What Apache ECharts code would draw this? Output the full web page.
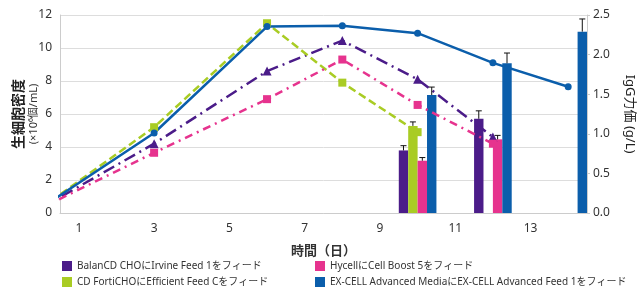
<!DOCTYPE html>
<html>
<head>
<meta charset="utf-8">
<script src="https://cdn.jsdelivr.net/npm/echarts@6/dist/echarts.min.js"></script>
<style>html,body{margin:0;padding:0;background:#fff}#c{width:638px;height:290px}</style>
</head>
<body>
<div id="c"></div>
<script>
// ---- data ----
const dayCategories = ['1','2','3','4','5','6','7','8','9','10','11','12','13','14'];
const lineDays = [0, 3, 6, 8, 10, 12, 14];
const balanVcd  = [0.3, 4.2, 8.6, 10.45, 8.1, 4.6, null];
const fortiVcd  = [0.3, 5.2, 11.5, 7.9, 4.9, null, null];
const hycellVcd = [0.3, 3.65, 6.9, 9.3, 6.55, 4.2, null];
const excellVcd = [0.3, 4.85, 11.3, 11.35, 10.9, 9.1, 7.65];

const titerDays = ['10', '12', '14'];
const balanTiter  = [0.79, 1.19, null];
const balanErr    = [0.06, 0.10, null];
const fortiTiter  = [1.10, null, null];
const fortiErr    = [0.05, null, null];
const hycellTiter = [0.66, 0.93, null];
const hycellErr   = [0.04, 0.05, null];
const excellTiter = [1.49, 1.89, 2.29];
const excellErr   = [0.10, 0.13, 0.16];

const names = [
  'BalanCD CHOにIrvine Feed 1をフィード',
  'CD FortiCHOにEfficient Feed Cをフィード',
  'HycellにCell Boost 5をフィード',
  'EX-CELL Advanced MediaにEX-CELL Advanced Feed 1をフィード'
];
const colors = ['#4b1c89', '#a9cc24', '#e6338e', '#0b5eab'];

// ---- build ----
const vcds = [balanVcd, fortiVcd, hycellVcd, excellVcd];
const titers = [balanTiter, fortiTiter, hycellTiter, excellTiter];
const errs = [balanErr, fortiErr, hycellErr, excellErr];
const symbols = ['triangle', 'rect', 'rect', 'circle'];
const symbolSizes = [9, 8, 8, 7];
const dashes = [[12, 5, 2, 5], [8, 4], [8, 5, 2, 5], 'solid'];

const font = '"Noto Sans", "Noto Sans CJK JP", sans-serif';

const series = [];
// bars (titer)
for (let k = 0; k < 4; k++) {
  const data = dayCategories.map(d => {
    const i = titerDays.indexOf(d);
    return i >= 0 ? titers[k][i] : null;
  });
  series.push({
    name: names[k], type: 'bar', xAxisIndex: 0, yAxisIndex: 1,
    data: data, barGap: '0%', barCategoryGap: '0%',
    itemStyle: { color: colors[k] }, z: 1
  });
}
// error bars
const errData = [];
for (let k = 0; k < 4; k++) {
  titerDays.forEach((d, i) => {
    if (titers[k][i] != null) {
      errData.push([dayCategories.indexOf(d), titers[k][i], errs[k][i], k]);
    }
  });
}
series.push({
  type: 'custom', xAxisIndex: 0, yAxisIndex: 1, z: 5, silent: true,
  data: errData,
  renderItem: function (params, api) {
    const x = api.value(0), v = api.value(1), e = api.value(2), k = api.value(3);
    const base = api.coord([x, v]);
    const top = api.coord([x, v + e]);
    const band = api.size([1, 0])[0];
    const cx = base[0] + (k - 1.5) * band / 4;
    const style = { stroke: '#111', lineWidth: 1 };
    return {
      type: 'group', children: [
        { type: 'line', shape: { x1: cx, y1: base[1], x2: cx, y2: top[1] }, style: style },
        { type: 'line', shape: { x1: cx - 3, y1: top[1], x2: cx + 3, y2: top[1] }, style: style }
      ]
    };
  }
});
// lines (VCD)
for (let k = 0; k < 4; k++) {
  const data = [];
  lineDays.forEach((d, i) => { if (vcds[k][i] != null) data.push([d, vcds[k][i]]); });
  series.push({
    name: names[k], type: 'line', xAxisIndex: 1, yAxisIndex: 0,
    data: data, clip: true, symbol: symbols[k], symbolSize: symbolSizes[k],
    showSymbol: true,
    lineStyle: { color: colors[k], width: 2.5, type: dashes[k] },
    itemStyle: { color: colors[k] }, z: 3
  });
}

const legendText = { fontSize: 10, lineHeight: 12, color: '#333', fontFamily: font };

const chart = echarts.init(document.getElementById('c'));
chart.setOption({
  animation: false,
  textStyle: { fontFamily: font },
  grid: { left: 60, right: 51, top: 15, bottom: 77, containLabel: false, outerBoundsMode: 'none' },
  legend: [
    {
      data: [names[0], names[1]], orient: 'vertical', left: 57, top: 257, padding: [3, 5, 0, 5],
      icon: 'rect', itemWidth: 10, itemHeight: 10, itemGap: 4,
      textStyle: legendText
    },
    {
      data: [names[2], names[3]], orient: 'vertical', left: 310, top: 257, padding: [3, 5, 0, 5],
      icon: 'rect', itemWidth: 10, itemHeight: 10, itemGap: 4,
      textStyle: legendText
    }
  ],
  xAxis: [
    {
      type: 'category', data: dayCategories, boundaryGap: true,
      axisLine: { lineStyle: { color: '#ccc' } }, axisTick: { show: false },
      axisLabel: { interval: 1, color: '#333', fontSize: 12, margin: 10 },
      name: '時間（日）', nameLocation: 'middle', nameGap: 32, nameMoveOverlap: false,
      nameTextStyle: { fontSize: 13, fontWeight: 'bold', color: '#333' }
    },
    { type: 'value', min: 0.5, max: 14.5, show: false }
  ],
  yAxis: [
    {
      type: 'value', min: 0, max: 12, interval: 2,
      axisLine: { show: true, lineStyle: { color: '#ccc' } }, axisTick: { show: false },
      axisLabel: { color: '#333', fontSize: 12, margin: 8 },
      splitLine: { lineStyle: { color: '#ddd' } },
      name: '{a|生細胞密度}\n{b|(×10⁶個/mL)}', nameLocation: 'middle', nameGap: 20, nameRotate: 90,
      nameMoveOverlap: false,
      nameTextStyle: {
        rich: {
          a: { fontSize: 14, fontWeight: 'bold', color: '#222', lineHeight: 16, fontFamily: font },
          b: { fontSize: 11, color: '#333', lineHeight: 13, fontFamily: font }
        }
      }
    },
    {
      type: 'value', min: 0, max: 2.5, interval: 0.5,
      axisLine: { show: true, lineStyle: { color: '#ccc' } },
      axisTick: { show: true, length: 3, lineStyle: { color: '#ccc' } },
      axisLabel: { color: '#333', fontSize: 12, margin: 6, formatter: v => v.toFixed(1) },
      splitLine: { show: false },
      name: 'IgG力価 (g/L)', nameLocation: 'middle', nameGap: 36, nameRotate: -90,
      nameMoveOverlap: false,
      nameTextStyle: { fontSize: 13, color: '#222' }
    }
  ],
  series: series
});
</script>
</body>
</html>
